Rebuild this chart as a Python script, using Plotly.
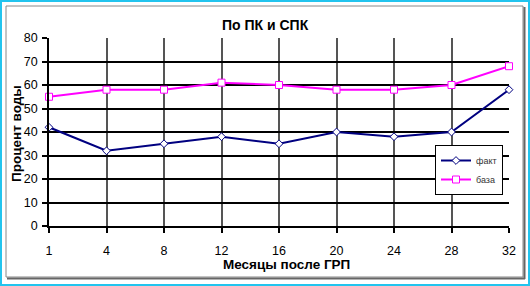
import plotly.graph_objects as go

months = ["1", "4", "8", "12", "16", "20", "24", "28", "32"]
fakt = [42, 32, 35, 38, 35, 40, 38, 40, 58]
baza = [55, 58, 58, 61, 60, 58, 58, 60, 68]
y_ticks = [0, 10, 20, 30, 40, 50, 60, 70, 80]

W, H = 530, 286
L, R, T, B = 49, 509, 38, 226

def px(x):
    return (x - L) / (R - L)

def py(y):
    return (B - y) / (B - T)

fig = go.Figure()
fig.add_trace(go.Scatter(
    x=months, y=fakt, name="факт", mode="lines+markers", cliponaxis=False,
    line=dict(color="#000080", width=2),
    marker=dict(symbol="diamond", size=6, color="white", line=dict(color="#000080", width=1)),
))
fig.add_trace(go.Scatter(
    x=months, y=baza, name="база", mode="lines+markers", cliponaxis=False,
    line=dict(color="#ff00ff", width=2),
    marker=dict(symbol="square", size=7, color="white", line=dict(color="#ff00ff", width=1)),
))

font = "Liberation Sans, Arial, sans-serif"

fig.update_layout(
    width=W, height=H,
    margin=dict(l=L, r=W - R, t=T, b=H - B, pad=0),
    paper_bgcolor="white", plot_bgcolor="white",
    font=dict(family=font, color="black", size=12),
    showlegend=True,
    legend=dict(
        x=px(435), y=py(145), xanchor="left", yanchor="top",
        bgcolor="white", bordercolor="black", borderwidth=1,
        font=dict(size=9, family=font, color="#333"),
        itemwidth=30, tracegroupgap=0,
    ),
    xaxis=dict(
        type="category", range=[0, len(months) - 1],
        showgrid=True, gridcolor="#555", gridwidth=1.5,
        showline=True, linecolor="black", linewidth=1.5,
        ticks="outside", ticklen=5, tickcolor="black", tickwidth=1.5,
        tickfont=dict(size=12.5, family=font),
        ticklabelstandoff=7,
        zeroline=False, mirror=False,
    ),
    yaxis=dict(
        range=[0, 80], tickvals=y_ticks,
        showgrid=True, gridcolor="black", gridwidth=1.5,
        showline=True, linecolor="black", linewidth=1.5,
        ticks="outside", ticklen=5, tickcolor="black", tickwidth=1.5,
        tickfont=dict(size=12.5, family=font),
        ticklabelstandoff=2,
        zeroline=False,
    ),
    annotations=[
        dict(text="<b>По ПК и СПК</b>", x=px(265), y=py(25), xref="paper", yref="paper",
             xanchor="center", yanchor="middle", showarrow=False,
             font=dict(size=14, family=font, color="black")),
        dict(text="<b>Месяцы после ГРП</b>", x=px(286), y=py(264), xref="paper", yref="paper",
             xanchor="center", yanchor="middle", showarrow=False,
             font=dict(size=13.5, family=font, color="black")),
        dict(text="<b>Процент воды</b>", x=px(16), y=py(134), xref="paper", yref="paper",
             xanchor="center", yanchor="middle", showarrow=False, textangle=-90,
             font=dict(size=13.5, family=font, color="black")),
    ],
    shapes=[
        dict(type="rect", xref="paper", yref="paper",
             x0=px(1), x1=px(529), y0=py(1), y1=py(285),
             line=dict(color="#22c4ee", width=2), fillcolor="rgba(0,0,0,0)", layer="above"),
        dict(type="rect", xref="paper", yref="paper",
             x0=px(6), x1=px(523), y0=py(6), y1=py(277),
             line=dict(color="#888", width=1), fillcolor="rgba(0,0,0,0)", layer="above"),
        dict(type="line", xref="paper", yref="paper",
             x0=px(524.5), x1=px(524.5), y0=py(7), y1=py(279),
             line=dict(color="#666", width=2), layer="above"),
        dict(type="line", xref="paper", yref="paper",
             x0=px(7), x1=px(525), y0=py(278.5), y1=py(278.5),
             line=dict(color="#666", width=2), layer="above"),
    ],
)

fig.write_html("out.html")
